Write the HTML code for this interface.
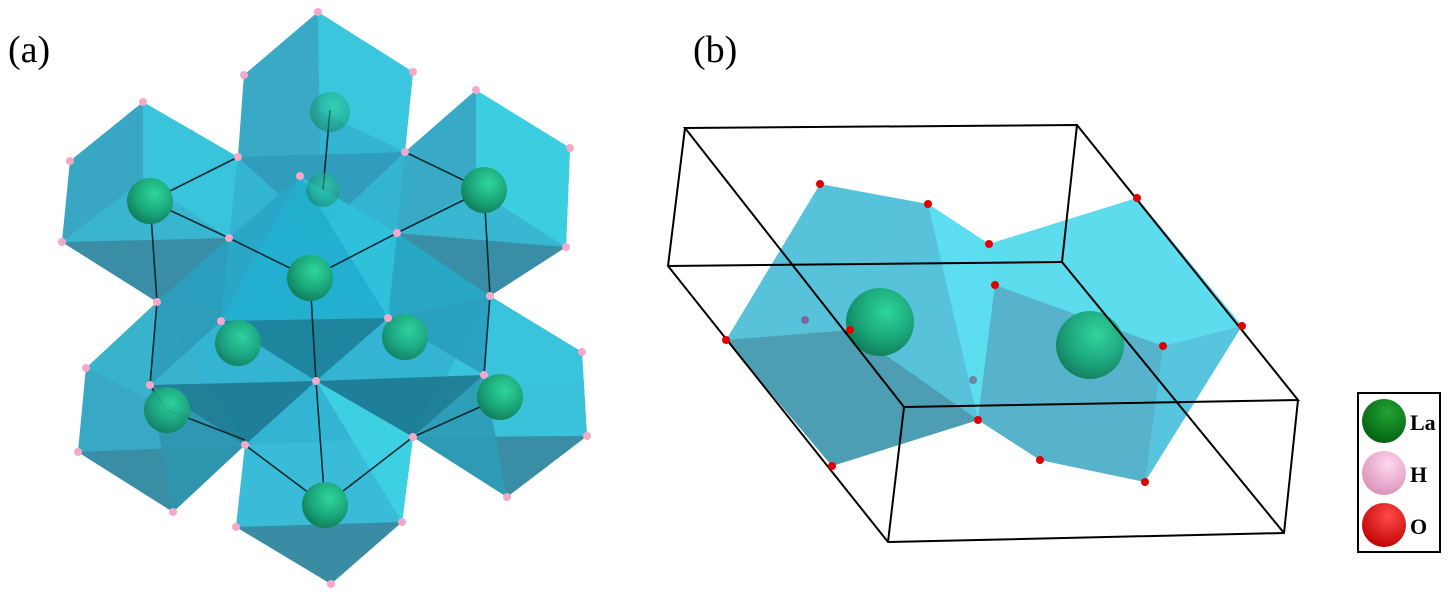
<!DOCTYPE html>
<html><head><meta charset="utf-8"><style>
html,body{margin:0;padding:0;background:#fff;}
svg{display:block;}
text{font-family:"Liberation Serif",serif;}
</style></head><body>
<svg width="1453" height="602" viewBox="0 0 1453 602" xmlns="http://www.w3.org/2000/svg">
<defs>
<radialGradient id="g" cx="0.6" cy="0.35" r="0.7"><stop offset="0" stop-color="#2fd69a"/><stop offset="0.6" stop-color="#1aa579"/><stop offset="1" stop-color="#0f7a58"/></radialGradient>
<radialGradient id="gl" cx="0.6" cy="0.3" r="0.75"><stop offset="0" stop-color="#22a332"/><stop offset="1" stop-color="#035f12"/></radialGradient>
<radialGradient id="p" cx="0.6" cy="0.3" r="0.75"><stop offset="0" stop-color="#ffd8ee"/><stop offset="1" stop-color="#d98fb8"/></radialGradient>
<radialGradient id="r" cx="0.6" cy="0.3" r="0.75"><stop offset="0" stop-color="#ff4a4a"/><stop offset="1" stop-color="#c00000"/></radialGradient>
</defs>
<text x="8" y="62" font-size="38">(a)</text>
<text x="693" y="62" font-size="38">(b)</text>

<g id="a" stroke="none">
<polygon points="318,12 413,72 405,152 476,90 570,148 566,247 490,296 582,352 587,436 507,497 413,437 402,522 331,584 236,527 245,445 173,512 78,452 86,368 157,302 62,242 70,161 143,102 238,157 244,75" fill="#32b4d2"/>
<!-- top -->
<g opacity="0.92">
<polygon points="318,12 413,72 405,152 244,75" fill="#3bc9df"/>
<polygon points="318,12 244,75 238,157 320,160" fill="#3aa9c4"/>
<polygon points="238,157 405,152 320,232" fill="#2f9cba"/>
</g>
<!-- upper-left -->
<g opacity="0.92">
<polygon points="143,102 238,157 229,238 143,180" fill="#3ac6dc"/>
<polygon points="143,102 70,161 62,242 143,180" fill="#3aa6c2"/>
<polygon points="62,242 229,238 157,302" fill="#3a8aa2"/>
<polygon points="143,180 62,242 229,238" fill="#3ab6d0"/>
</g>
<!-- upper-right -->
<g opacity="0.92">
<polygon points="476,90 570,148 566,247 476,190" fill="#3cd0e2"/>
<polygon points="476,90 405,152 397,233 476,190" fill="#3aaac6"/>
<polygon points="397,233 566,247 490,296" fill="#3a8aa2"/>
<polygon points="476,190 397,233 566,247" fill="#3ab8d2"/>
</g>
<!-- lower-left -->
<g opacity="0.92">
<polygon points="157,302 245,445 86,368" fill="#3ab2cc"/>
<polygon points="86,368 78,452 245,445" fill="#3aa8c4"/>
<polygon points="78,452 245,445 173,512" fill="#3a8aa2"/>
</g>
<!-- lower-right -->
<g opacity="0.92">
<polygon points="490,296 582,352 587,436 413,437" fill="#3bc4dc"/>
<polygon points="413,437 587,436 507,497" fill="#3a8aa2"/>
</g>
<!-- bottom -->
<g opacity="0.95">
<polygon points="245,445 413,437 402,522 236,527" fill="#3bbcd8"/>
<polygon points="316,380 413,437 402,522" fill="#3ed2e4"/>
<polygon points="236,527 402,522 331,584" fill="#3a8aa2"/>
</g>
<!-- center -->
<g opacity="0.9">
<polygon points="300,176 397,233 388,318" fill="#2fc2dc"/>
<polygon points="300,176 229,238 221,321" fill="#2aa6c6"/>
<polygon points="300,176 221,321 388,318" fill="#22b0d0"/>
<polygon points="221,321 388,318 316,381" fill="#1e7f98"/>
<polygon points="157,302 221,321 150,385" fill="#2a95b2"/>
<polygon points="388,318 490,296 484,375" fill="#2a9fbc"/>
<polygon points="150,385 316,381 245,445" fill="#1f7a92"/>
<polygon points="316,381 484,375 413,437" fill="#1f7a92"/>
<polygon points="229,238 157,302 221,321" fill="#2a9cba"/>
<polygon points="397,233 490,296 388,318" fill="#28a6c4"/>
<polygon points="150,385 157,302 221,321" fill="#2c9cba"/>
<polygon points="245,445 150,385 173,512" fill="#2e96b0"/>
<polygon points="413,437 484,375 507,497" fill="#2e9cb6"/>
</g>
<!-- bonds -->
<g stroke="#0c2a33" stroke-width="1.6" fill="none">
<path d="M238,157 L150,201 L229,238 L310,278 L397,233 L484,190 L405,152"/>
<path d="M150,201 L157,302 L150,385 L167,410 L245,440"/>
<path d="M484,190 L490,296 L484,375 L500,398 L413,437"/>
<path d="M310,278 L316,381 L325,505 L245,445"/>
<path d="M325,505 L413,437"/>
<path d="M330,110 L323,190"/>
</g>
<!-- La -->
<circle cx="330" cy="112" r="20" fill="url(#g)" opacity="0.55"/>
<circle cx="323" cy="190" r="17" fill="url(#g)" opacity="0.55"/>
<circle cx="150" cy="201" r="23" fill="url(#g)"/>
<circle cx="484" cy="190" r="23" fill="url(#g)"/>
<circle cx="310" cy="278" r="23" fill="url(#g)"/>
<circle cx="238" cy="343" r="23" fill="url(#g)" opacity="0.9"/>
<circle cx="405" cy="337" r="23" fill="url(#g)" opacity="0.9"/>
<circle cx="167" cy="410" r="23" fill="url(#g)" opacity="0.9"/>
<circle cx="500" cy="397" r="23" fill="url(#g)"/>
<circle cx="325" cy="505" r="23" fill="url(#g)"/>
<!-- H -->
<g fill="#f4a9c8">
<circle cx="318" cy="12" r="4"/><circle cx="244" cy="75" r="4"/><circle cx="413" cy="72" r="4"/>
<circle cx="143" cy="102" r="4"/><circle cx="476" cy="90" r="4"/><circle cx="70" cy="161" r="4"/>
<circle cx="570" cy="148" r="4"/><circle cx="62" cy="242" r="4"/><circle cx="566" cy="247" r="4"/>
<circle cx="238" cy="157" r="4"/><circle cx="405" cy="152" r="4"/><circle cx="300" cy="176" r="4"/>
<circle cx="229" cy="238" r="4"/><circle cx="397" cy="233" r="4"/><circle cx="157" cy="302" r="4"/>
<circle cx="490" cy="296" r="4"/><circle cx="221" cy="321" r="4"/><circle cx="388" cy="318" r="4"/>
<circle cx="316" cy="381" r="4"/><circle cx="150" cy="385" r="4"/><circle cx="484" cy="375" r="4"/>
<circle cx="86" cy="368" r="4"/><circle cx="582" cy="352" r="4"/><circle cx="78" cy="452" r="4"/>
<circle cx="587" cy="436" r="4"/><circle cx="245" cy="445" r="4"/><circle cx="413" cy="437" r="4"/>
<circle cx="173" cy="512" r="4"/><circle cx="507" cy="497" r="4"/><circle cx="236" cy="527" r="4"/>
<circle cx="402" cy="522" r="4"/><circle cx="331" cy="584" r="4"/>
</g>
</g>

<!-- (b) -->
<g>
<g opacity="0.85">
<polygon points="820,184 928,204 989,244 995,285 978,420 832,466 726,340" fill="#3ab8d4"/>
<polygon points="726,340 850,330 978,420 832,466" fill="#2f8ea6"/>
<polygon points="928,204 989,244 995,285 978,420" fill="#40d8ee"/>
</g>
<g opacity="0.85">
<polygon points="1137,198 1242,326 1145,482 1040,460 978,420 995,285 989,244" fill="#3abcd8"/>
<polygon points="1137,198 1242,326 1163,346 995,285 989,244" fill="#40d6ea"/>
<polygon points="978,420 1040,460 1145,482 1163,346 995,285" fill="#3aa6c2"/>
</g>
<circle cx="880" cy="322" r="34" fill="url(#g)"/>
<circle cx="1090" cy="345" r="34" fill="url(#g)" opacity="0.95"/>
<circle cx="805" cy="320" r="4" fill="#776a99"/>
<circle cx="973" cy="380" r="4" fill="#6a88a0"/>
<g stroke="#000" stroke-width="2" fill="none">
<polygon points="685,128 1077,125 1298,400 904,407"/>
<polyline points="685,128 668,266 888,542 1284,533 1298,400"/>
<line x1="668" y1="266" x2="1062" y2="262"/>
<line x1="1077" y1="125" x2="1062" y2="262"/>
<line x1="1062" y1="262" x2="1284" y2="533"/>
<line x1="904" y1="407" x2="888" y2="542"/>
</g>
<g fill="#e00000">
<circle cx="820" cy="184" r="4"/><circle cx="928" cy="204" r="4"/><circle cx="989" cy="244" r="4"/>
<circle cx="995" cy="285" r="4"/><circle cx="978" cy="420" r="4"/><circle cx="832" cy="466" r="4"/>
<circle cx="726" cy="340" r="4"/><circle cx="850" cy="330" r="4"/><circle cx="1137" cy="198" r="4"/>
<circle cx="1242" cy="326" r="4"/><circle cx="1163" cy="346" r="4"/><circle cx="1145" cy="482" r="4"/>
<circle cx="1040" cy="460" r="4"/>
</g>
</g>

<!-- legend -->
<rect x="1358" y="393" width="82" height="159" fill="#fff" stroke="#000" stroke-width="2"/>
<circle cx="1384" cy="421" r="22" fill="url(#gl)"/>
<circle cx="1384" cy="473" r="22" fill="url(#p)"/>
<circle cx="1384" cy="525" r="22" fill="url(#r)"/>
<text x="1410" y="430" font-size="22" font-weight="bold">La</text>
<text x="1410" y="482" font-size="22" font-weight="bold">H</text>
<text x="1410" y="534" font-size="22" font-weight="bold">O</text>
</svg>
</body></html>
